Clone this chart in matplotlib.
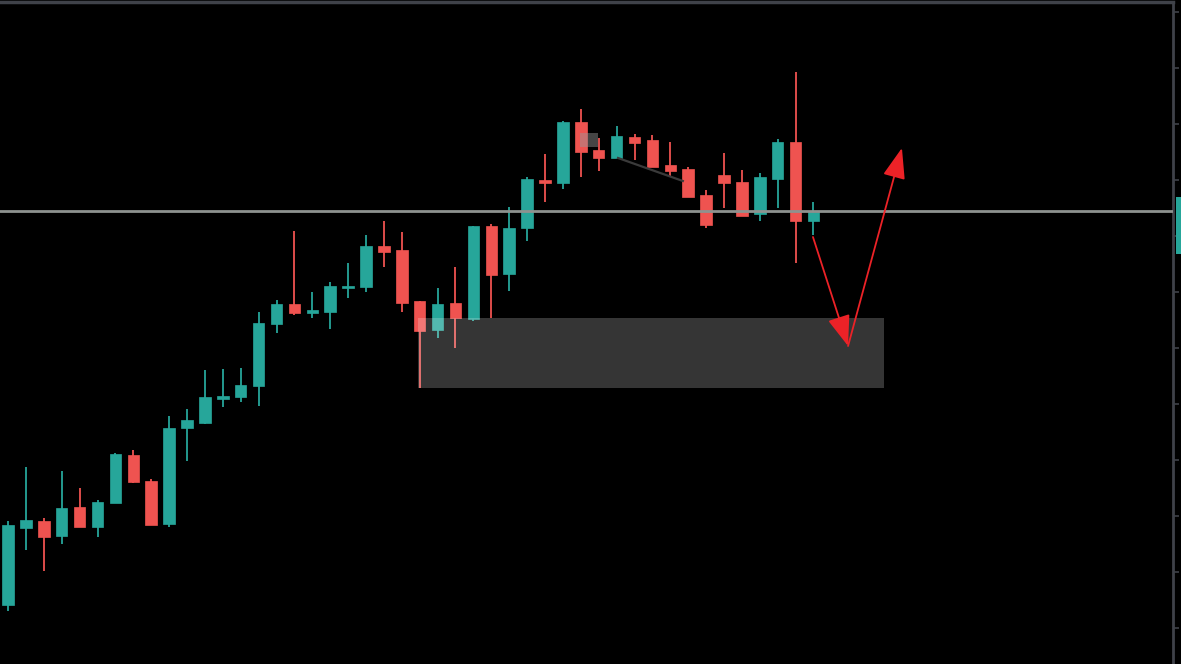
import matplotlib
matplotlib.use("Agg")
import matplotlib.pyplot as plt
from matplotlib.patches import Rectangle
import numpy as np

# OHLC values (arbitrary price units)
opens = [59, 136, 143, 128, 157, 137, 161, 209, 183, 140, 236, 241, 265, 267, 278, 340,
         360, 351, 352, 376, 377, 418, 414, 363, 334, 361, 345, 438, 390, 436, 484, 481,
         542, 514, 506, 527, 524, 499, 495, 469, 489, 482, 450, 485, 522, 443]
closes = [139, 144, 127, 156, 137, 162, 210, 182, 139, 236, 244, 267, 268, 279, 341, 360,
          351, 354, 378, 378, 418, 412, 361, 333, 360, 346, 438, 389, 436, 485, 481, 542,
          512, 506, 528, 521, 497, 493, 467, 439, 481, 448, 487, 522, 443, 452]
highs = [143, 197, 146, 193, 176, 164, 211, 214, 185, 248, 255, 294, 295, 296, 352, 364,
         433, 372, 382, 401, 429, 443, 432, 363, 376, 397, 438, 440, 457, 487, 510, 543,
         555, 526, 538, 530, 529, 522, 497, 474, 511, 494, 491, 525, 592, 462]
lows = [53, 114, 93, 120, 137, 127, 161, 181, 139, 137, 203, 240, 257, 262, 258, 331,
        349, 346, 335, 366, 372, 397, 352, 276, 326, 316, 343, 346, 373, 423, 462, 475,
        487, 493, 506, 504, 497, 488, 467, 436, 456, 448, 443, 456, 401, 429]

level_price = 453
zone = dict(x0=22.9, x1=48.94, y0=276, y1=346)
small_box = dict(x0=31.96, x1=32.96, y0=517, y1=531)
trend_line = dict(x=[34.08, 37.7], y=[506, 483])
arrow_pts = dict(x=[44.97, 46.93, 49.94], y=[427, 318, 516])

UP = "#26a69a"
DOWN = "#ef5350"
SPINE = "#3f4249"

W, H = 1181, 664
fig = plt.figure(figsize=(W / 100, H / 100), dpi=100, facecolor="black")
ax = fig.add_axes([0, 0, 1173 / W, (H - 2) / H])
ax.set_facecolor("black")

n = len(opens)
xs = np.arange(n)
body_w = 0.64
for x, o, c, h, l in zip(xs, opens, closes, highs, lows):
    col = UP if c >= o else DOWN
    ax.plot([x, x], [l, h], color=col, lw=1.3, solid_capstyle="butt", zorder=2)
    bottom = min(o, c)
    height = max(abs(c - o), 2.5)
    ax.add_patch(Rectangle((x - body_w / 2, bottom), body_w, height,
                           facecolor=col, edgecolor=col, lw=0.5, zorder=3))

# horizontal level
ax.axhline(level_price, color="#8e928f", lw=2.0, zorder=4)

# zone rectangle (semi-transparent overlay)
ax.add_patch(Rectangle((zone["x0"], zone["y0"]), zone["x1"] - zone["x0"], zone["y1"] - zone["y0"],
                       facecolor="#ffffff", alpha=0.21, edgecolor="none", zorder=5))
ax.add_patch(Rectangle((small_box["x0"], small_box["y0"]), small_box["x1"] - small_box["x0"],
                       small_box["y1"] - small_box["y0"],
                       facecolor="#9a9a9a", alpha=0.45, edgecolor="none", zorder=5))

ax.plot(trend_line["x"], trend_line["y"], color="#3a3a3a", lw=1.6, zorder=5)

# red arrows
ax_, ay_ = arrow_pts["x"], arrow_pts["y"]
for k in range(2):
    ax.annotate("", xy=(ax_[k + 1], ay_[k + 1]), xytext=(ax_[k], ay_[k]),
                arrowprops=dict(arrowstyle="-|>,head_length=1.9,head_width=0.7",
                                mutation_scale=10, color="#ec2227", lw=1.3,
                                shrinkA=0, shrinkB=0),
                zorder=6)

ax.set_xlim(-8 / 17.9, 1165 / 17.9)
ax.set_ylim(0, 662)

for s in ["left", "bottom"]:
    ax.spines[s].set_visible(False)
ax.spines["right"].set_color(SPINE)
ax.spines["right"].set_linewidth(2.0)
ax.spines["top"].set_color(SPINE)
ax.spines["top"].set_linewidth(2.5)

ax.set_xticks([])
ax.yaxis.set_ticks_position("right")
ax.set_yticks(np.arange(36, 662, 56))
ax.tick_params(axis="y", colors=SPINE, length=4, width=1.2, labelright=False, labelleft=False)

# price label on the right axis (partially visible)
fig.patches.append(Rectangle((1176 / W, (H - 254) / H), 6 / W, 57 / H,
                             transform=fig.transFigure, facecolor=UP, edgecolor="none"))

fig.savefig("out.png", dpi=100, facecolor="black")
